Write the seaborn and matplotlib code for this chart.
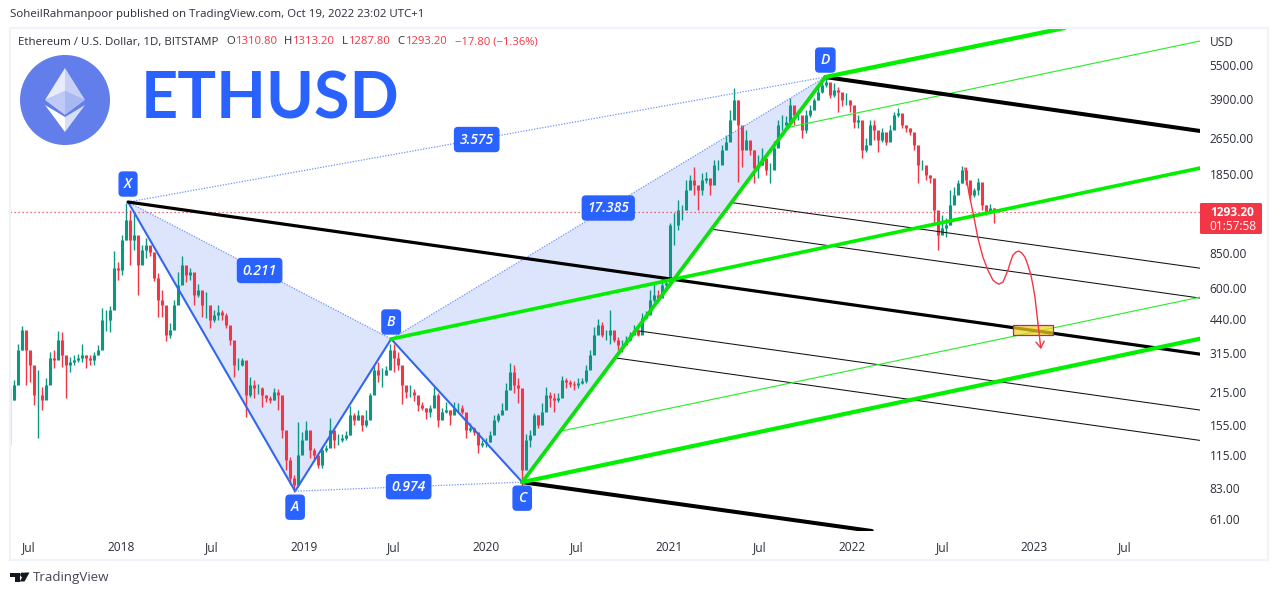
import numpy as np
import pandas as pd
import matplotlib
matplotlib.use('Agg')
import matplotlib.pyplot as plt
import seaborn as sns
from matplotlib.patches import Circle, Polygon, Rectangle, FancyBboxPatch
from matplotlib.ticker import NullLocator
from matplotlib.transforms import Affine2D, ScaledTranslation

# prices, one bar every 8 days
first_bar = '2017-05-24'
closes = [200, 232, 328, 399, 328, 282, 210, 210, 200, 232,
          303, 297, 362, 312, 282, 291, 297, 303, 312, 303,
          297, 312, 328, 441, 441, 487, 738, 724, 975, 1189,
          975, 1024, 761, 883, 928, 866, 669, 538, 512, 380,
          399, 512, 624, 761, 689, 710, 565, 594, 512, 512,
          441, 463, 477, 463, 420, 362, 282, 282, 297, 210,
          232, 225, 225, 210, 204, 200, 216, 210, 148, 110,
          92, 86, 116, 134, 148, 122, 116, 105, 122, 124,
          148, 134, 134, 137, 141, 172, 164, 172, 156, 164,
          210, 269, 256, 256, 269, 328, 303, 282, 232, 216,
          216, 210, 190, 185, 178, 185, 210, 164, 178, 181,
          172, 185, 185, 178, 148, 151, 145, 128, 130, 132,
          141, 164, 172, 181, 220, 264, 232, 225, 100, 134,
          141, 172, 156, 178, 210, 204, 200, 204, 243, 238,
          234, 232, 236, 241, 269, 312, 380, 420, 380, 380,
          399, 362, 344, 344, 362, 380, 399, 380, 450, 463,
          538, 565, 549, 624, 637, 1131, 1131, 1313, 1313, 1601,
          1768, 1682, 1601, 1768, 1804, 1682, 2052, 2052, 2381, 2577,
          3206, 3910, 3051, 2381, 2629, 2381, 1991, 2052, 2199, 1952,
          1952, 2430, 3051, 3051, 3141, 3721, 3369, 3369, 2903, 3369,
          3541, 3910, 4232, 4538, 4677, 4110, 4318, 4232, 3910, 3910,
          3721, 3141, 3206, 2381, 2502, 3051, 2903, 2629, 2846, 2577,
          2903, 3369, 3438, 3051, 2960, 2846, 2502, 2052, 2052, 1858,
          1804, 1313, 1024, 1098, 1131, 1380, 1524, 1716, 1952, 1768,
          1524, 1601, 1733, 1380, 1287, 1340, 1293.2]
highs = [228, 243, 350, 416, 391, 303, 276, 269, 228, 248,
         322, 328, 395, 391, 303, 306, 312, 315, 350, 312,
         312, 322, 344, 497, 487, 507, 874, 784, 1024, 1408,
         1313, 1274, 928, 928, 995, 901, 840, 703, 594, 432,
         428, 538, 710, 832, 738, 738, 637, 630, 559, 582,
         477, 487, 512, 487, 473, 416, 335, 303, 303, 288,
         251, 243, 234, 228, 210, 208, 225, 223, 181, 127,
         114, 95, 161, 145, 162, 147, 124, 116, 125, 128,
         167, 141, 143, 143, 147, 188, 175, 181, 172, 181,
         214, 282, 291, 274, 279, 350, 350, 322, 236, 228,
         232, 223, 204, 196, 185, 190, 228, 214, 185, 196,
         181, 196, 194, 190, 164, 159, 153, 141, 134, 137,
         147, 172, 175, 194, 236, 288, 282, 248, 210, 143,
         148, 175, 172, 194, 228, 216, 214, 214, 253, 248,
         243, 241, 248, 248, 282, 328, 412, 445, 432, 399,
         487, 387, 372, 362, 376, 391, 420, 412, 473, 482,
         594, 637, 594, 669, 676, 1154, 1274, 1450, 1380, 1768,
         1858, 2012, 1665, 1896, 1915, 1750, 2156, 2156, 2502, 2763,
         3541, 4404, 3910, 2903, 2903, 2577, 2381, 2266, 2430, 2052,
         2095, 2603, 3206, 3369, 3336, 3989, 3613, 3541, 3206, 3541,
         3721, 3989, 4404, 4769, 4906, 4404, 4630, 4448, 4110, 4194,
         3910, 3613, 3369, 3051, 2683, 3206, 3206, 2818, 2960, 2763,
         3051, 3471, 3613, 3174, 3051, 2960, 2629, 2199, 2156, 1991,
         1858, 1649, 1274, 1249, 1213, 1601, 1649, 1768, 2032, 2012,
         1682, 1633, 1804, 1509, 1380, 1394, 1340]
lows = [128, 200, 264, 328, 232, 238, 190, 137, 181, 216,
        282, 274, 312, 276, 204, 264, 282, 291, 291, 274,
        282, 282, 312, 362, 395, 391, 502, 656, 689, 975,
        761, 883, 565, 784, 816, 832, 650, 454, 454, 358,
        369, 450, 571, 656, 643, 656, 512, 554, 454, 450,
        407, 432, 441, 441, 407, 344, 251, 269, 279, 169,
        206, 204, 212, 186, 196, 194, 200, 181, 137, 100,
        87, 80, 93, 122, 137, 113, 110, 102, 102, 119,
        132, 124, 128, 132, 134, 142, 156, 164, 147, 153,
        175, 214, 238, 228, 256, 274, 264, 269, 192, 204,
        206, 198, 179, 181, 166, 169, 200, 153, 169, 175,
        156, 178, 178, 174, 137, 145, 141, 118, 125, 125,
        132, 156, 161, 174, 210, 238, 214, 194, 82, 114,
        125, 141, 151, 169, 200, 186, 178, 196, 216, 225,
        228, 220, 225, 234, 236, 291, 335, 399, 372, 362,
        350, 355, 328, 322, 347, 358, 384, 376, 432, 445,
        487, 527, 533, 565, 606, 724, 928, 1077, 1189, 1480,
        1682, 1524, 1313, 1524, 1716, 1524, 1822, 1952, 2156, 2454,
        2818, 3721, 1733, 2012, 2502, 2266, 1716, 1804, 2052, 1858,
        1716, 2222, 2683, 2903, 2960, 3141, 3051, 3206, 2683, 2818,
        3304, 3649, 3910, 4194, 4448, 3989, 4030, 3471, 3685, 3721,
        3471, 2960, 2960, 2199, 2333, 2903, 2629, 2333, 2577, 2502,
        2790, 3082, 3304, 2960, 2846, 2763, 2381, 1716, 1952, 1768,
        1716, 1131, 883, 1055, 1003, 1131, 1480, 1601, 1716, 1682,
        1450, 1495, 1524, 1313, 1249, 1274, 1154]

# XABCD harmonic pattern
pattern_names = ['X', 'A', 'B', 'C', 'D']
pattern_dates = ['2018-01-15', '2018-12-15', '2019-06-25', '2020-03-13', '2021-11-09']
pattern_prices = [1422, 81, 366, 88.6, 4906]
ratio_labels = ['0.211', '0.974', '3.575', '17.385']

# trend lines: start date, start price, end date, end price
right_edge = '2023-11-28'
thick_green = [('2019-06-25', 366, right_edge, 1991),
               ('2020-03-13', 88.6, right_edge, 367),
               ('2021-11-09', 4906, '2023-03-02', 7976)]
thin_green = [('2021-08-30', 2990, right_edge, 7012),
              ('2020-05-30', 147, right_edge, 554)]
thick_black = [('2018-01-15', 1422, right_edge, 315),
               ('2021-11-09', 4906, right_edge, 2875),
               ('2020-03-13', 88.6, '2022-02-10', 54.6)]
thin_black = [('2021-05-08', 1412, right_edge, 738),
              ('2021-03-29', 1085, right_edge, 549),
              ('2020-11-03', 396, right_edge, 181),
              ('2020-09-13', 304, right_edge, 134)]

# hand drawn forecast path
path_dates = ['2022-08-15', '2022-08-23', '2022-09-02', '2022-09-10', '2022-09-20', '2022-09-30',
              '2022-10-10', '2022-10-16', '2022-10-22', '2022-10-30', '2022-11-05', '2022-11-09',
              '2022-11-14', '2022-11-19', '2022-11-25', '2022-12-01', '2022-12-07', '2022-12-13',
              '2022-12-19', '2022-12-25', '2022-12-29', '2023-01-02', '2023-01-08', '2023-01-14']
path_prices = [1991, 1555, 1225, 994, 824, 724,
               656, 640, 630, 643, 689, 724,
               784, 840, 866, 874, 857, 824,
               761, 689, 624, 554, 428, 331]
zone_dates = ['2022-11-20', '2023-02-08']
zone_prices = [381, 420]

last_price = 1293.2
y_ticks = [5500, 3900, 2650, 1850, 850, 600, 440, 315, 215, 155, 115, 83, 61]
x_ticks = ['2017-07-01', '2018-01-01', '2018-07-01', '2019-01-01', '2019-07-01', '2020-01-01', '2020-07-01',
           '2021-01-01', '2021-07-01', '2022-01-01', '2022-07-01', '2023-01-01', '2023-07-01']
x_labels = ['Jul', '2018', 'Jul', '2019', 'Jul', '2020', 'Jul', '2021', 'Jul', '2022', 'Jul', '2023', 'Jul']

UP = '#089981'
DOWN = '#f23645'
BLUE = '#2962ff'
INK = '#2a2e39'

sns.set_theme(style='white')
plt.rcParams['font.family'] = ['Open Sans', 'DejaVu Sans']

fig = plt.figure(figsize=(12.8, 5.95), dpi=100)
ax = fig.add_axes([10 / 1280, 1 - 531 / 595, 1190 / 1280, 503 / 595])
px = Affine2D().scale(1 / 1280, -1 / 595).translate(0, 1) + fig.transFigure

dates = pd.date_range(first_bar, periods=len(closes), freq='8D')
opens = [closes[0]] + closes[:-1]
bars = pd.DataFrame({'date': dates, 'open': opens, 'high': highs, 'low': lows, 'close': closes})
pts = pd.DataFrame({'date': pd.to_datetime(pattern_dates), 'price': pattern_prices}, index=pattern_names)


def line(a, b, color, width, style='-', z=4):
    df = pd.DataFrame({'date': pd.to_datetime([a[0], b[0]]), 'price': [a[1], b[1]]})
    sns.lineplot(data=df, x='date', y='price', color=color, linewidth=width, linestyle=style,
                 estimator=None, sort=False, ax=ax, zorder=z)


def pt(name):
    return pts.loc[name, 'date'], pts.loc[name, 'price']


# shaded triangles
for tri in ['XAB', 'BCD']:
    ax.fill(pts.loc[list(tri), 'date'], pts.loc[list(tri), 'price'], color='#dde5fc', lw=0, zorder=1)

# candles
bar_colors = [UP if c >= o else DOWN for o, c in zip(opens, closes)]
ax.vlines(bars['date'], bars['low'], bars['high'], colors=bar_colors, linewidth=1.0, zorder=2)
ax.vlines(bars['date'], bars['open'], bars['close'], colors=bar_colors, linewidth=2.2, zorder=2)

ax.axhline(last_price, color=DOWN, linewidth=0.9, linestyle=(0, (1, 2.2)), zorder=2)

for a, b in [('X', 'A'), ('A', 'B'), ('B', 'C'), ('C', 'D')]:
    line(pt(a), pt(b), '#3366f0', 1.5, z=3)
for a, b in [('X', 'B'), ('A', 'C'), ('X', 'D'), ('B', 'D')]:
    line(pt(a), pt(b), '#6d93f7', 0.9, style=(0, (1, 1.2)), z=3)

for sd, sp, ed, ep in thin_black:
    line((sd, sp), (ed, ep), '#111111', 0.75)
for sd, sp, ed, ep in thin_green:
    line((sd, sp), (ed, ep), '#22ee22', 0.8)
for (sd, sp, ed, ep), w in zip(thick_black, [2.3, 2.9, 2.9]):
    line((sd, sp), (ed, ep), '#000000', w)
for (sd, sp, ed, ep), w in zip(thick_green, [2.6, 3.0, 3.1]):
    line((sd, sp), (ed, ep), '#00f000', w, z=5)
line(pt('C'), pt('D'), '#0ce00c', 2.7, z=5)

# forecast zone and arrow
zone_x = pd.to_datetime(zone_dates)
ax.fill([zone_x[0], zone_x[1], zone_x[1], zone_x[0]],
        [zone_prices[0], zone_prices[0], zone_prices[1], zone_prices[1]],
        facecolor='#f5d320', alpha=0.72, edgecolor='none', zorder=6)
ax.plot([zone_x[0], zone_x[1], zone_x[1], zone_x[0], zone_x[0]],
        [zone_prices[0], zone_prices[0], zone_prices[1], zone_prices[1], zone_prices[0]],
        color='#9c27b0', linewidth=0.9, zorder=6)
path_x = pd.to_datetime(path_dates)
ax.plot(path_x[:-1], path_prices[:-1], color=DOWN, linewidth=1.0, zorder=7)
ax.annotate('', xy=(path_x[-1], path_prices[-1]), xytext=(path_x[-2], path_prices[-2]), zorder=7,
            arrowprops=dict(arrowstyle='->,head_length=0.45,head_width=0.3', color=DOWN, lw=1.0,
                            shrinkA=0, shrinkB=0, mutation_scale=10))

# pattern labels
box = dict(boxstyle='round,pad=0.36,rounding_size=0.25', facecolor=BLUE, edgecolor=BLUE)
offsets = {'X': 18, 'A': -16, 'B': 17, 'C': -16, 'D': 17}
for name in pattern_names:
    x, y = pt(name)
    ax.annotate(name, xy=(x, y), xytext=(0, offsets[name]), textcoords='offset pixels',
                ha='center', va='center', color='white', fontsize=10, fontstyle='italic',
                fontweight='semibold', bbox=box, zorder=8)
for (a, b), text in zip([('X', 'B'), ('A', 'C'), ('X', 'D'), ('B', 'D')], ratio_labels):
    (x0, y0), (x1, y1) = pt(a), pt(b)
    ax.text(x0 + (x1 - x0) / 2, np.sqrt(y0 * y1), text, ha='center', va='center', color='white',
            fontsize=10, fontstyle='italic', fontweight='semibold', bbox=box, zorder=8)

# axes
ax.set_yscale('log')
ax.set_xlim(pd.Timestamp(first_bar), pd.Timestamp(right_edge))
ax.set_ylim(54.6, 7976)
ax.set_xticks(pd.to_datetime(x_ticks), x_labels)
ax.set_yticks(y_ticks, [f'{v:.2f}' for v in y_ticks])
ax.yaxis.set_minor_locator(NullLocator())
ax.yaxis.tick_right()
ax.tick_params(axis='both', length=0, labelsize=8.6, labelcolor=INK)
ax.tick_params(axis='x', pad=7)
ax.tick_params(axis='y', pad=7)
nudge = ScaledTranslation(0, 1 / 100, fig.dpi_scale_trans)
for lab in ax.get_yticklabels():
    lab.set_transform(lab.get_transform() + nudge)
ax.set_xlabel('')
ax.set_ylabel('')
ax.grid(False)
for s in ax.spines.values():
    s.set_visible(False)

# page furniture, placed in pixels
fig.add_artist(Rectangle((9.5, 27.5), 1258, 532.5, fill=False, edgecolor='#f0f3fa', linewidth=1.6, transform=px))
fig.add_artist(FancyBboxPatch((1200, 203), 62, 31, boxstyle='round,pad=0,rounding_size=1.5', facecolor=DOWN,
                              edgecolor='none', transform=px))
fig.text(1210, 212, '1293.20', color='white', fontsize=8.6, fontweight='bold', va='center', transform=px)
fig.text(1209, 226, '01:57:58', color='white', fontsize=8.6, va='center', transform=px)
fig.text(1210, 42, 'USD', color=INK, fontsize=8.6, va='center', transform=px)

fig.text(10, 15, 'SoheilRahmanpoor published on TradingView.com, Oct 19, 2022 23:02 UTC+1',
         color=INK, fontsize=8.25, va='center', transform=px)
fig.text(18, 42, 'Ethereum / U.S. Dollar, 1D, BITSTAMP', color=INK, fontsize=8.25, va='center', transform=px)
for x, text, color in [(226, 'O', INK), (236, '1310.80', DOWN), (284, 'H', INK), (293, '1313.20', DOWN),
                       (342, 'L', INK), (349, '1287.80', DOWN), (397, 'C', INK), (406, '1293.20', DOWN),
                       (455, '\u221217.80 (\u22121.36%)', DOWN)]:
    fig.text(x, 42, text, color=color, fontsize=8.1, va='center', transform=px)

# logo
fig.add_artist(Circle((65, 100), 45, facecolor='#627eea', edgecolor='none', transform=px))
for poly, alpha in [([(65, 68), (45, 100), (65, 91)], 0.85), ([(65, 68), (85, 100), (65, 91)], 0.65),
                    ([(45, 100), (65, 91), (65, 115)], 0.6), ([(85, 100), (65, 91), (65, 115)], 0.45),
                    ([(45, 105), (65, 132), (65, 117)], 1.0), ([(85, 105), (65, 132), (65, 117)], 0.75)]:
    fig.add_artist(Polygon(poly, closed=True, facecolor='white', alpha=alpha, edgecolor='none', transform=px))
fig.text(141, 100, 'ETHUSD', color=BLUE, fontsize=46.5, family='Lato', fontweight='bold', va='center', transform=px)

# footer mark
fig.add_artist(Polygon([(10, 572.5), (20, 572.5), (20, 581.5), (15, 581.5), (15, 577), (10, 577)], closed=True,
                       facecolor='#131722', edgecolor='none', transform=px))
fig.add_artist(Circle((22.5, 574.8), 2.3, facecolor='#131722', edgecolor='none', transform=px))
fig.add_artist(Polygon([(24.5, 572.5), (29.5, 572.5), (24.5, 581.5), (19.8, 581.5)], closed=True,
                       facecolor='#131722', edgecolor='none', transform=px))
fig.text(33, 577, 'TradingView', color='#434651', fontsize=9.6, va='center', transform=px)

fig.savefig('out.png', dpi=100, facecolor='white')
